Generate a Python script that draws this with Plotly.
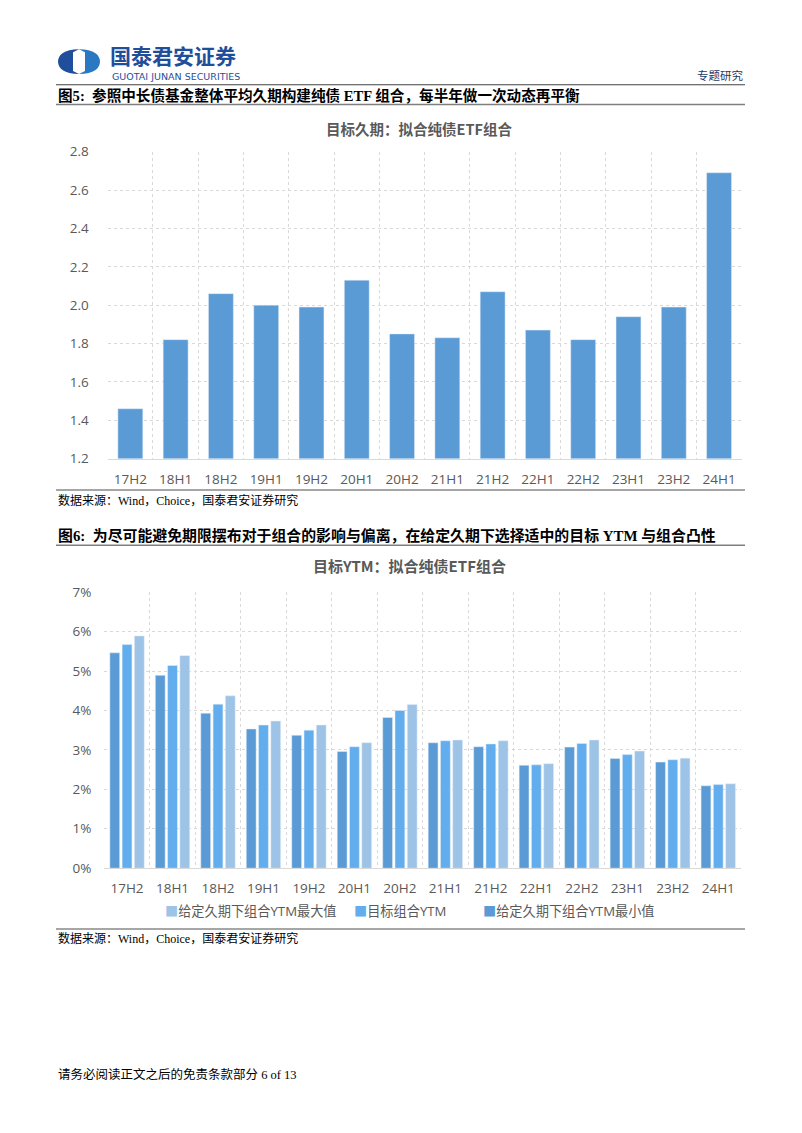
import plotly.graph_objects as go

# ── data ───────────────────────────────────────────────────────────────────────
periods = ["17H2", "18H1", "18H2", "19H1", "19H2", "20H1", "20H2",
           "21H1", "21H2", "22H1", "22H2", "23H1", "23H2", "24H1"]
duration = [1.46, 1.82, 2.06, 2.00, 1.99, 2.13, 1.85,
            1.83, 2.07, 1.87, 1.82, 1.94, 1.99, 2.69]
ytm_min = [5.46, 4.89, 3.93, 3.53, 3.37, 2.96, 3.82,
           3.18, 3.08, 2.61, 3.07, 2.78, 2.69, 2.09]
ytm_target = [5.67, 5.14, 4.16, 3.63, 3.50, 3.08, 4.00,
              3.23, 3.15, 2.62, 3.16, 2.88, 2.75, 2.12]
ytm_max = [5.89, 5.39, 4.37, 3.73, 3.63, 3.18, 4.15,
           3.25, 3.23, 2.65, 3.25, 2.97, 2.79, 2.14]
dur_ticks = [1.2, 1.4, 1.6, 1.8, 2.0, 2.2, 2.4, 2.6, 2.8]
ytm_ticks = [0, 1, 2, 3, 4, 5, 6, 7]
ytm_ticktext = ["0%", "1%", "2%", "3%", "4%", "5%", "6%", "7%"]
legend_names = ["给定久期下组合YTM最大值", "目标组合YTM", "给定久期下组合YTM最小值"]

# figure kept a little smaller than the 802x1133 window so the page never scrolls;
# all positions below are page pixels from the top-left corner
W, H = 790, 1115
GREY_TXT = "#595959"
GRID = "#D9D9D9"
NAVY = "#1F4E9A"
BLUE = "#5A9BD5"
BLUE_MID = "#62ADEE"
BLUE_LIGHT = "#9DC3E6"
SANS = "Open Sans, Noto Sans CJK SC, sans-serif"
SERIF = "Liberation Serif, Noto Sans CJK SC, serif"


def px(x):
    return x / W


def py(y):
    return 1 - y / H


fig = go.Figure()

# ── 图5: 目标久期 ──────────────────────────────────────────────────────────────
fig.add_bar(x=periods, y=duration, marker_color=BLUE, width=0.55,
            showlegend=False, xaxis="x", yaxis="y")

# ── 图6: 目标YTM ───────────────────────────────────────────────────────────────
fig.add_bar(x=periods, y=ytm_min, name=legend_names[2],
            marker_color=BLUE, xaxis="x2", yaxis="y2")
fig.add_bar(x=periods, y=ytm_target, name=legend_names[1],
            marker_color=BLUE_MID, xaxis="x2", yaxis="y2")
fig.add_bar(x=periods, y=ytm_max, name=legend_names[0],
            marker_color=BLUE_LIGHT, xaxis="x2", yaxis="y2")

xcommon = dict(type="category", tickson="boundaries", showgrid=True,
               gridcolor=GRID, griddash="3px,3px", showline=True,
               linecolor=GRID, linewidth=1, ticks="", ticklabelstandoff=8,
               tickfont=dict(size=13.5, color=GREY_TXT, family=SANS))
ycommon = dict(showgrid=True, gridcolor=GRID, griddash="3px,3px",
               zeroline=False, showline=False, ticks="",
               tickfont=dict(size=13.5, color=GREY_TXT, family=SANS))

fig.update_layout(
    width=W, height=H, margin=dict(l=0, r=0, t=0, b=0),
    paper_bgcolor="white", plot_bgcolor="white",
    barmode="group", bargap=0.19, bargroupgap=0.2,
    xaxis=dict(domain=[px(107.7), px(741.7)], anchor="y", **xcommon),
    yaxis=dict(domain=[py(457), py(145)], anchor="x", range=[1.2, 2.8],
               tickvals=dur_ticks, tickformat=".1f", ticklabelstandoff=18,
               **ycommon),
    xaxis2=dict(domain=[px(104.3), px(741)], anchor="y2", **xcommon),
    yaxis2=dict(domain=[py(873.3), py(592.7)], anchor="x2", range=[0, 7],
                tickmode="array", tickvals=ytm_ticks, ticktext=ytm_ticktext,
                ticklabelstandoff=12, **ycommon),
    showlegend=False,
)

# ── page furniture: header, captions, rules, footer ───────────────────────────
def hline(y, color, width, x0=56, x1=745):
    fig.add_shape(type="line", xref="paper", yref="paper",
                  x0=px(x0), x1=px(x1), y0=py(y), y1=py(y),
                  line=dict(color=color, width=width))


def text(x, y, s, size, color="black", family=SERIF, anchor="left", bold=False):
    fig.add_annotation(xref="paper", yref="paper", x=px(x), y=py(y), text=s,
                       showarrow=False, xanchor=anchor, yanchor="middle",
                       borderpad=0,
                       font=dict(size=size, color=color, family=family,
                                 weight="bold" if bold else "normal"))


# logo
fig.add_shape(type="path", xref="paper", yref="paper",
              path=f"M {px(79)} {py(41)} C {px(64)} {py(41)} {px(58)} {py(47)} {px(58)} {py(53.5)} "
                   f"C {px(58)} {py(60)} {px(64)} {py(66)} {px(79)} {py(66)} Z",
              fillcolor=NAVY, line=dict(width=0))
fig.add_shape(type="path", xref="paper", yref="paper",
              path=f"M {px(79)} {py(41)} C {px(94)} {py(41)} {px(100)} {py(47)} {px(100)} {py(53.5)} "
                   f"C {px(100)} {py(60)} {px(94)} {py(66)} {px(79)} {py(66)} Z",
              fillcolor="#2B78C2", line=dict(width=0))
fig.add_shape(type="path", xref="paper", yref="paper",
              path=f"M {px(73)} {py(44)} L {px(79)} {py(41)} L {px(85)} {py(44)} "
                   f"L {px(85)} {py(63)} L {px(79)} {py(66)} L {px(73)} {py(63)} Z",
              fillcolor="white", line=dict(width=0))
text(109, 47, "国泰君安证券", 21, NAVY, "Noto Sans CJK SC", bold=True)
text(111, 69, "GUOTAI JUNAN SECURITIES", 9.5, NAVY, "DejaVu Sans")
text(745, 68, "专题研究", 11.5, "#1F3864", SERIF, anchor="right")

hline(77, "#404040", 1)
text(57, 88, "图5:  参照中长债基金整体平均久期构建纯债 ETF 组合，每半年做一次动态再平衡",
     14.6, bold=True)
hline(97, "#7F7F7F", 1.5)

text(419, 121, "目标久期：拟合纯债ETF组合", 14.5, GREY_TXT, "Noto Sans CJK SC", "center", bold=True)

hline(489, "#A6A6A6", 2)
text(57, 500, "数据来源：Wind，Choice，国泰君安证券研究", 12)

text(57, 535, "图6:  为尽可能避免期限摆布对于组合的影响与偏离，在给定久期下选择适中的目标 YTM 与组合凸性",
     14.9, bold=True)
hline(545, "#7F7F7F", 1.5)

text(409, 566, "目标YTM：拟合纯债ETF组合", 15, GREY_TXT, "Noto Sans CJK SC", "center", bold=True)

# legend row of chart 2 (square + label, as in the source)
for x0, name, col in zip([164, 353, 482], legend_names, [BLUE_LIGHT, BLUE_MID, BLUE]):
    text(x0, 917, f"<span style='color:{col}'>■</span>{name}", 13.2, GREY_TXT, SANS)

hline(935, "#A6A6A6", 2)
text(57, 945, "数据来源：Wind，Choice，国泰君安证券研究", 12)

text(57, 1083, "请务必阅读正文之后的免责条款部分 6 of 13", 12.5)

fig.write_html("out.html", config={"displayModeBar": False},
               post_script="document.body.style.margin='0';"
                           "document.documentElement.style.overflow='hidden';")
